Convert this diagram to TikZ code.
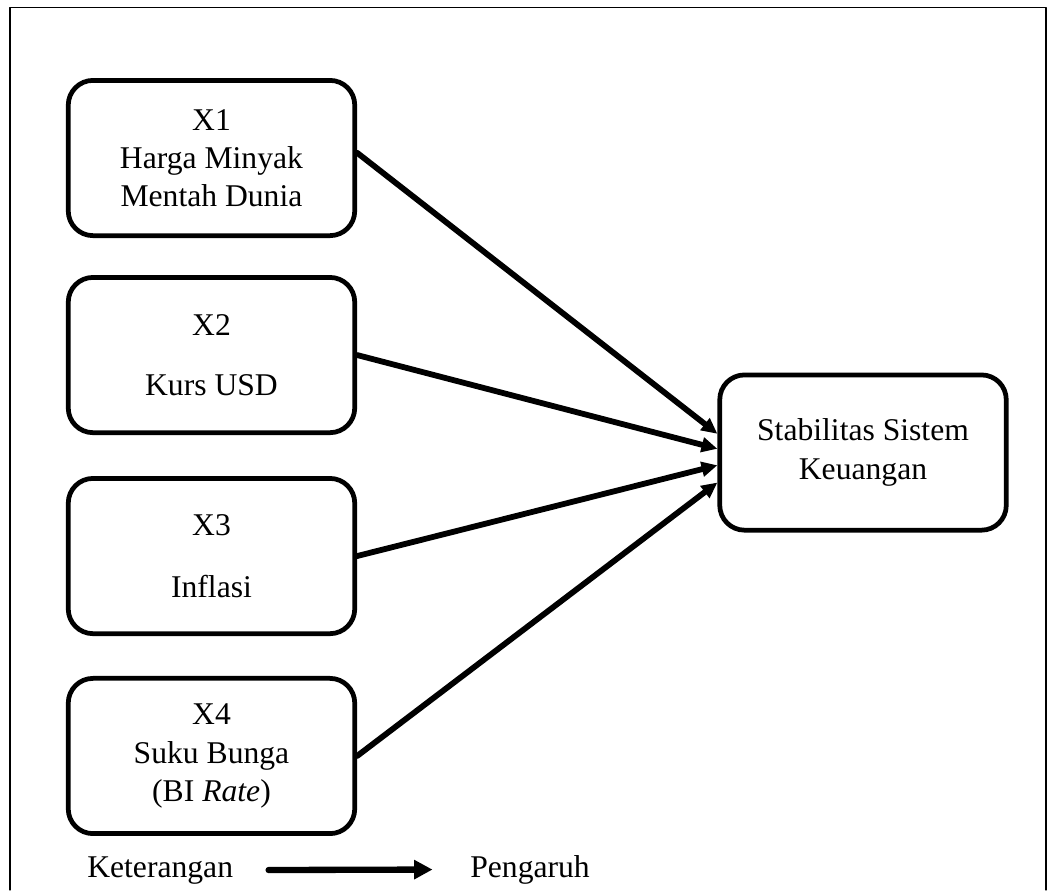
\documentclass[tikz,border=0pt]{standalone}
\usepackage{fontspec}
\setmainfont{Liberation Serif}
\usetikzlibrary{arrows.meta, calc, positioning}

\begin{document}
\begin{tikzpicture}[line cap=round, line join=round, >=Triangle,
	var/.style={draw, line width=1.8pt, rounded corners=0.33cm, align=center,
		minimum width=3.82cm, minimum height=2.07cm, inner sep=0pt,
		font=\fontsize{12}{14.5}\selectfont},
	pengaruh/.style={line width=2.2pt, -{Triangle[length=6pt,width=5.5pt]}},
	teks/.style={font=\fontsize{12}{14.5}\selectfont}]
	% page size and frame (bottom edge is cut off)
	\useasboundingbox (0,0) rectangle (14.107,11.867);
	\draw[line width=0.4pt] (0.133,0) -- (0.133,11.773) -- (13.947,11.773) -- (13.947,0);

	% independent variables
	\node[var] (x1) at (2.82,9.76) {X1\\Harga Minyak\\Mentah Dunia};
	\node[var] (x2) at (2.82,7.133) {X2\\[8pt]Kurs USD};
	\node[var] (x3) at (2.82,4.453) {X3\\[9pt]Inflasi};
	\node[var] (x4) at (2.82,1.787) {X4\\Suku Bunga\\(BI \textit{Rate})};

	% dependent variable
	\node[var] (sss) at (11.507,5.833) {Stabilitas Sistem\\Keuangan};

	% influences
	\draw[pengaruh] ([yshift=0.07cm]x1.east) -- ([yshift=0.25cm]sss.west);
	\draw[pengaruh] (x2.east) -- ([yshift=0.05cm]sss.west);
	\draw[pengaruh] (x3.east) -- ([yshift=-0.17cm]sss.west);
	\draw[pengaruh] (x4.east) -- ([yshift=-0.4cm]sss.west);

	% legend
	\node[teks, anchor=base west] (ket) at (1.04,0.173) {Keterangan};
	\node[teks, anchor=base west] (peng) at (6.147,0.173) {Pengaruh};
	\draw[line width=2.4pt, -{Triangle[length=7pt,width=7pt]}, shorten <=0.35cm, shorten >=0.38cm] (ket.east) -- (peng.west);
\end{tikzpicture}
\end{document}
